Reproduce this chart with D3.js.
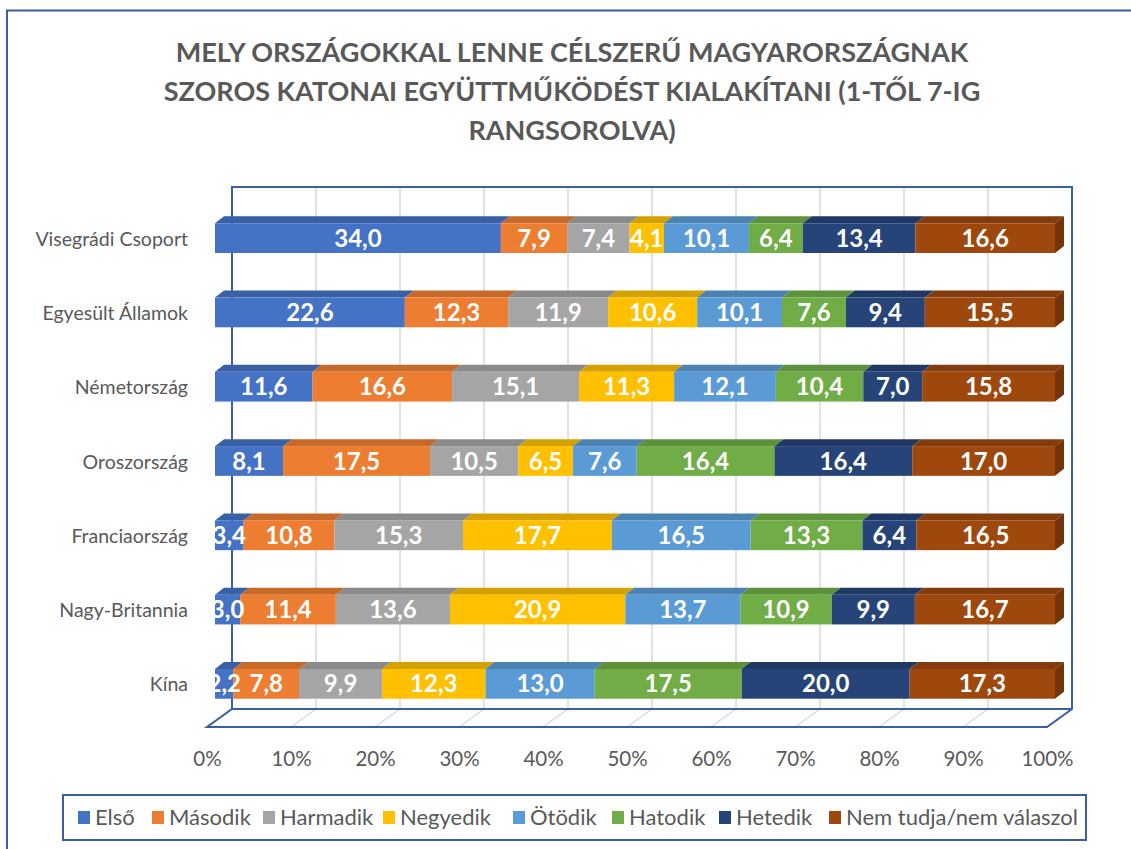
<!DOCTYPE html>
<html lang="hu">
<head>
<meta charset="UTF-8">
<title>Katonai együttműködés</title>
<script src="https://cdn.jsdelivr.net/npm/d3@7"></script>
<style>
  body { margin: 0; background: #fff; }
  svg text { font-family: Lato, "Open Sans", sans-serif; }
</style>
</head>
<body>
<svg id="chart" width="1131" height="849"></svg>
<script>

// data
var countries = ["Visegrádi Csoport", "Egyesült Államok", "Németország", "Oroszország",
                 "Franciaország", "Nagy-Britannia", "Kína"];
var seriesNames = ["Első", "Második", "Harmadik", "Negyedik", "Ötödik", "Hatodik", "Hetedik",
                   "Nem tudja/nem válaszol"];
var elso     = [34.0, 22.6, 11.6, 8.1, 3.4, 3.0, 2.2];
var masodik  = [7.9, 12.3, 16.6, 17.5, 10.8, 11.4, 7.8];
var harmadik = [7.4, 11.9, 15.1, 10.5, 15.3, 13.6, 9.9];
var negyedik = [4.1, 10.6, 11.3, 6.5, 17.7, 20.9, 12.3];
var otodik   = [10.1, 10.1, 12.1, 7.6, 16.5, 13.7, 13.0];
var hatodik  = [6.4, 7.6, 10.4, 16.4, 13.3, 10.9, 17.5];
var hetedik  = [13.4, 9.4, 7.0, 16.4, 6.4, 9.9, 20.0];
var nemtudja = [16.6, 15.5, 15.8, 17.0, 16.5, 16.7, 17.3];
var tickLabels = ["0%", "10%", "20%", "30%", "40%", "50%", "60%", "70%", "80%", "90%", "100%"];
var titleLines = ["MELY ORSZÁGOKKAL LENNE CÉLSZERŰ MAGYARORSZÁGNAK",
                  "SZOROS KATONAI EGYÜTTMŰKÖDÉST KIALAKÍTANI (1-TŐL 7-IG",
                  "RANGSOROLVA)"];

var values = [elso, masodik, harmadik, negyedik, otodik, hatodik, hetedik, nemtudja];
var colors = ["#4472C4", "#ED7D31", "#A5A5A5", "#FFC000", "#5B9BD5", "#70AD47", "#264478", "#9E480E"];

var svg = d3.select("#chart");
var blue = "#3A5FA8";
var grid = "#D9D9D9";
var txt = "#595959";

// outer frame
svg.append("path")
    .attr("d", "M7,849 V10.5 H1131")
    .attr("fill", "none").attr("stroke", blue).attr("stroke-width", 2);

// title
svg.append("g").selectAll("text").data(titleLines).join("text")
    .attr("x", 572).attr("y", function (d, i) { return 62 + i * 39; })
    .attr("text-anchor", "middle")
    .attr("font-size", 27).attr("font-weight", "bold").attr("fill", txt)
    .text(function (d) { return d; });

// 3D geometry: back wall, front edge, bar faces
var back = {dx: 25, dy: -18};   // back wall offset from front axis
var x = d3.scaleLinear().domain([0, 1]).range([207, 1047]);       // front floor edge
var xb = d3.scaleLinear().domain([0, 1]).range([215, 1055]);      // bar front face
var topY = 187, floorFront = 727;
var y = d3.scaleBand().domain(countries).range([201, 721]).paddingInner(0.6).paddingOuter(0.3);
var depth = {dx: 9, dy: -7};

var ticks = d3.range(0, 1.0001, 0.1);

// back wall grid
svg.append("g").selectAll("line").data(ticks).join("line")
    .attr("x1", function (d) { return x(d) + back.dx; })
    .attr("x2", function (d) { return x(d) + back.dx; })
    .attr("y1", topY).attr("y2", floorFront + back.dy)
    .attr("stroke", grid).attr("stroke-width", 1.5);
// floor grid
svg.append("g").selectAll("line").data(ticks).join("line")
    .attr("x1", function (d) { return x(d) + back.dx; })
    .attr("x2", function (d) { return x(d); })
    .attr("y1", floorFront + back.dy).attr("y2", floorFront)
    .attr("stroke", grid).attr("stroke-width", 1.5);

// box edges
var x0b = x(0) + back.dx, x1b = x(1) + back.dx, yb = floorFront + back.dy;
svg.append("path")
    .attr("d", "M" + x0b + "," + yb + " V" + topY + " H" + x1b + " V" + yb +
               " L" + x(1) + "," + floorFront + " H" + x(0) + " L" + x0b + "," + yb + " H" + x1b)
    .attr("fill", "none").attr("stroke", blue).attr("stroke-width", 2);

// stacked data (100%)
var rows = countries.map(function (c, i) {
  var total = d3.sum(values, function (s) { return s[i]; });
  var acc = 0;
  return values.map(function (s, k) {
    var seg = {country: c, k: k, v: s[i], x0: acc / total, x1: (acc + s[i]) / total};
    acc += s[i];
    return seg;
  });
});

var bars = svg.append("g");
rows.forEach(function (row) {
  var g = bars.append("g");
  row.forEach(function (d) {
    var xa = xb(d.x0), xe = xb(d.x1), yt = y(d.country), h = y.bandwidth();
    var c = d3.color(colors[d.k]);
    // top face
    g.append("path")
      .attr("d", "M" + xa + "," + yt + " L" + (xa + depth.dx) + "," + (yt + depth.dy) +
                 " H" + (xe + depth.dx) + " L" + xe + "," + yt + "Z")
      .attr("fill", c.darker(0.5));
    g.append("rect")
      .attr("x", xa).attr("y", yt).attr("width", xe - xa).attr("height", h)
      .attr("fill", c);
    if (d.k === values.length - 1) {
      g.append("path")
        .attr("d", "M" + xe + "," + yt + " L" + (xe + depth.dx) + "," + (yt + depth.dy) +
                   " V" + (yt + h + depth.dy) + " L" + xe + "," + (yt + h) + "Z")
        .attr("fill", c.darker(0.9));
    }
  });
});

// value labels, clipped to the bars
svg.append("clipPath").attr("id", "barclip").append("rect")
    .attr("x", xb(0)).attr("y", 150).attr("width", 900).attr("height", 600);
svg.append("g").attr("clip-path", "url(#barclip)")
  .selectAll("text").data(rows.flat()).join("text")
    .attr("x", function (d) { return xb((d.x0 + d.x1) / 2); })
    .attr("y", function (d) { return y(d.country) + y.bandwidth() / 2 + 8.5; })
    .attr("text-anchor", "middle")
    .attr("font-size", 24).attr("font-weight", "bold").attr("fill", "#fff")
    .text(function (d) { return d3.format(".1f")(d.v).replace(".", ","); });

// category labels
svg.append("g").selectAll("text").data(countries).join("text")
    .attr("x", 188)
    .attr("y", function (d) { return y(d) + y.bandwidth() / 2 + 7.5; })
    .attr("text-anchor", "end")
    .attr("font-size", 19.5).attr("fill", txt)
    .text(function (d) { return d; });

// x axis labels
var axis = d3.axisBottom(x).tickValues(ticks).tickSize(0)
    .tickFormat(function (d, i) { return tickLabels[i]; });
var ax = svg.append("g").attr("transform", "translate(0," + (floorFront + 21) + ")").call(axis);
ax.select(".domain").remove();
ax.selectAll("text").attr("font-size", 20.5).attr("fill", txt)
    .attr("font-family", "Lato, sans-serif");

// legend
svg.append("rect").attr("x", 63).attr("y", 795).attr("width", 1023).attr("height", 45)
    .attr("fill", "none").attr("stroke", blue).attr("stroke-width", 2);
var legendX = [78, 152, 263, 383, 513, 612, 719, 829];
var lg = svg.append("g").selectAll("g").data(seriesNames).join("g")
    .attr("transform", function (d, i) { return "translate(" + legendX[i] + ",817)"; });
lg.append("rect").attr("x", 0).attr("y", -6).attr("width", 12).attr("height", 13)
    .attr("fill", function (d, i) { return colors[i]; });
lg.append("text").attr("x", 17).attr("y", 8)
    .attr("font-size", 22).attr("fill", txt)
    .text(function (d) { return d; });

</script>
</body>
</html>
